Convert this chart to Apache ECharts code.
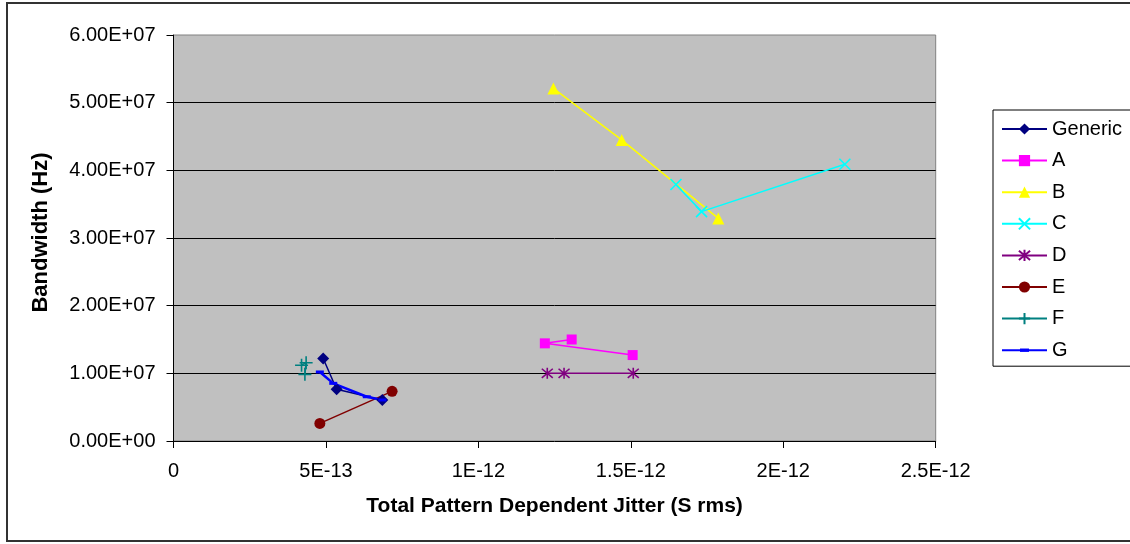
<!DOCTYPE html>
<html>
<head>
<meta charset="utf-8">
<script src="https://cdn.jsdelivr.net/npm/echarts@6/dist/echarts.min.js"></script>
<style>
  html, body { margin: 0; padding: 0; background: #ffffff; }
  #chart { width: 1130px; height: 544px; }
</style>
</head>
<body>
<div id="chart"></div>
<script>
// Series names, in legend order
const seriesNames = ['Generic', 'A', 'B', 'C', 'D', 'E', 'F', 'G'];

// Total pattern dependent jitter (s rms) and bandwidth (Hz) per series
const genericX = [4.91e-13, 5.35e-13, 6.85e-13];
const genericY = [1.22e7, 0.764e7, 0.606e7];

const aX = [1.306e-12, 1.218e-12, 1.506e-12];
const aY = [1.50e7, 1.443e7, 1.27e7];

const bX = [1.246e-12, 1.470e-12, 1.787e-12];
const bY = [5.21e7, 4.45e7, 3.29e7];

const cX = [1.648e-12, 1.732e-12, 2.202e-12];
const cY = [3.79e7, 3.39e7, 4.09e7];

const dX = [1.226e-12, 1.281e-12, 1.508e-12];
const dY = [1.0e7, 1.0e7, 1.0e7];

const eX = [4.80e-13, 7.17e-13];
const eY = [0.26e7, 0.734e7];

const fX = [4.20e-13, 4.35e-13, 4.31e-13];
const fY = [1.12e7, 1.157e7, 0.985e7];

const gX = [4.80e-13, 5.24e-13, 6.34e-13, 6.85e-13];
const gY = [1.02e7, 0.852e7, 0.654e7, 0.606e7];

// Axis tick labels
const xTickLabels = ['0', '5E-13', '1E-12', '1.5E-12', '2E-12', '2.5E-12'];
const yTickLabels = ['0.00E+00', '1.00E+07', '2.00E+07', '3.00E+07', '4.00E+07', '5.00E+07', '6.00E+07'];

const X_STEP = 5e-13;
const Y_STEP = 1e7;

function pairs(xs, ys) {
  return xs.map((x, i) => [x, ys[i]]);
}

// Marker outlines drawn as stroked paths
const SYM_X = 'path://M0,0L10,10M10,0L0,10';
const SYM_STAR = 'path://M0,0L10,10M10,0L0,10M5,-1L5,11';
const SYM_PLUS = 'path://M0,5L10,5M5,0L5,10';
// Short horizontal dash inside a square box (the outer moves keep the box square)
const SYM_DASH = 'path://M0,0M1,3.5h8v3h-8zM10,10';

const styles = [
  { name: 'Generic', data: pairs(genericX, genericY), color: '#000080', symbol: 'diamond', size: 12, width: 1.5, stroke: false },
  { name: 'A', data: pairs(aX, aY), color: '#FF00FF', symbol: 'rect', size: 10, width: 1.5, stroke: false },
  { name: 'B', data: pairs(bX, bY), color: '#FFFF00', symbol: 'triangle', size: 12, width: 1.5, stroke: false },
  { name: 'C', data: pairs(cX, cY), color: '#00FFFF', symbol: SYM_X, size: 11, width: 1.5, stroke: true },
  { name: 'D', data: pairs(dX, dY), color: '#800080', symbol: SYM_STAR, size: 11, width: 1.5, stroke: true },
  { name: 'E', data: pairs(eX, eY), color: '#800000', symbol: 'circle', size: 11, width: 1.5, stroke: false },
  { name: 'F', data: pairs(fX, fY), color: '#008080', symbol: SYM_PLUS, size: 13, width: 1.5, stroke: true },
  { name: 'G', data: pairs(gX, gY), color: '#0000FF', symbol: SYM_DASH, size: 10, width: 2.5, stroke: false }
];

const chart = echarts.init(document.getElementById('chart'), null, { renderer: 'canvas' });

const FONT = 'Arial, "Liberation Sans", sans-serif';

chart.setOption({
  animation: false,
  backgroundColor: '#ffffff',
  textStyle: { fontFamily: FONT, color: '#000' },
  graphic: [
    {
      type: 'rect',
      silent: true,
      z: -10,
      shape: { x: 7, y: 3, width: 1140, height: 538 },
      style: { fill: 'none', stroke: '#333333', lineWidth: 2 }
    }
  ],
  grid: {
    left: 173.5,
    right: 194.3,
    top: 35,
    bottom: 103,
    show: true,
    backgroundColor: '#C0C0C0',
    borderColor: '#808080',
    borderWidth: 1,
    containLabel: false,
    outerBoundsMode: 'none'
  },
  legend: {
    orient: 'vertical',
    left: 993,
    top: 110,
    padding: [9, 30, 6, 8],
    itemGap: 11.6,
    itemWidth: 45,
    itemHeight: 14,
    borderColor: '#000',
    borderWidth: 1,
    backgroundColor: '#ffffff',
    selectedMode: false,
    data: seriesNames,
    textStyle: { fontFamily: FONT, fontSize: 20, lineHeight: 20, color: '#000' }
  },
  xAxis: {
    type: 'value',
    min: 0,
    max: 2.5e-12,
    interval: X_STEP,
    name: 'Total Pattern Dependent Jitter (S rms)',
    nameLocation: 'middle',
    nameGap: 55,
    nameTextStyle: { fontFamily: FONT, fontSize: 21, fontWeight: 'bold', color: '#000' },
    axisLine: { show: true, onZero: false, lineStyle: { color: '#000', width: 1 } },
    axisTick: { show: true, length: 7, lineStyle: { color: '#000' } },
    axisLabel: {
      margin: 20,
      fontFamily: FONT,
      fontSize: 20,
      color: '#000',
      formatter: v => xTickLabels[Math.round(v / X_STEP)]
    },
    splitLine: { show: false }
  },
  yAxis: {
    type: 'value',
    min: 0,
    max: 6e7,
    interval: Y_STEP,
    name: 'Bandwidth (Hz)',
    nameLocation: 'middle',
    nameRotate: 90,
    nameGap: 122,
    nameTextStyle: { fontFamily: FONT, fontSize: 22, fontWeight: 'bold', color: '#000', padding: [0, 0, 0, 11] },
    axisLine: { show: true, lineStyle: { color: '#000', width: 1 } },
    axisTick: { show: true, length: 7, lineStyle: { color: '#000' } },
    axisLabel: {
      margin: 18,
      fontFamily: FONT,
      fontSize: 20,
      color: '#000',
      formatter: v => yTickLabels[Math.round(v / Y_STEP)]
    },
    splitLine: { show: true, showMinLine: false, showMaxLine: false, lineStyle: { color: '#000', width: 1 } }
  },
  series: styles.map(s => ({
    name: s.name,
    type: 'line',
    data: s.data,
    symbol: s.symbol,
    symbolSize: s.size,
    showAllSymbol: true,
    smooth: false,
    clip: false,
    lineStyle: { color: s.color, width: s.width },
    itemStyle: s.stroke
      ? { color: s.color, borderColor: s.color, borderWidth: 1.6 }
      : { color: s.color, borderWidth: 0 },
    emphasis: { disabled: true }
  }))
});
</script>
</body>
</html>
